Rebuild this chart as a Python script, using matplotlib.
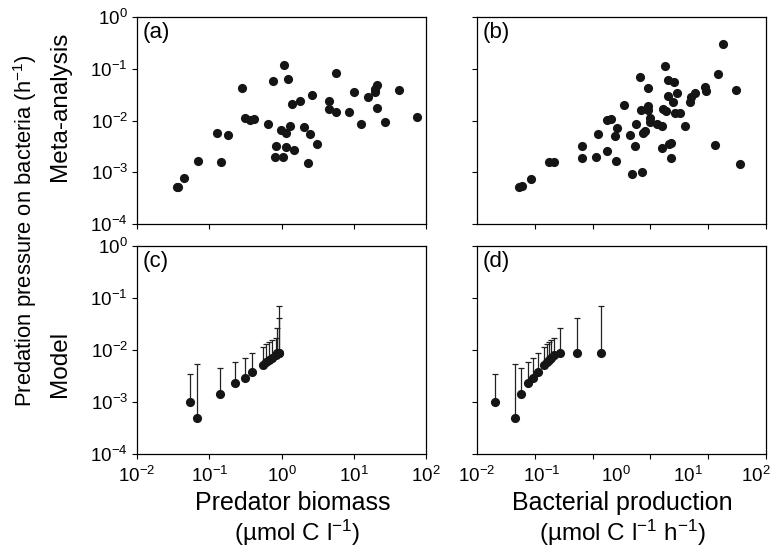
import numpy as np
import matplotlib
matplotlib.use("Agg")
import matplotlib.pyplot as plt
from matplotlib.ticker import FixedLocator, FixedFormatter, NullLocator, NullFormatter

plt.rcParams['font.family'] = ['Liberation Sans', 'DejaVu Sans']
plt.rcParams['mathtext.fontset'] = 'custom'
plt.rcParams['mathtext.rm'] = 'Liberation Sans'
plt.rcParams['mathtext.it'] = 'Liberation Sans:italic'
plt.rcParams['mathtext.bf'] = 'Liberation Sans:bold'

# (a) meta-analysis vs predator biomass
biomass_a = [0.0367, 0.0356, 0.0454, 0.0689, 0.126, 0.144, 0.18, 0.287, 0.313, 0.363,
             0.422, 0.653, 0.759, 0.826, 0.817, 0.989, 1.076, 1.054, 1.138, 1.148,
             1.225, 1.291, 1.406, 1.483, 1.8, 2.065, 2.296, 2.5, 2.667, 3.126,
             4.54, 4.54, 5.74, 5.74, 8.71, 10.1, 12.5, 15.5, 19.8, 20.0,
             21.3, 20.8, 27.2, 42.7, 75.0]
pressure_a = [0.00053, 0.00051, 0.00078, 0.00163, 0.0057, 0.0016, 0.0052, 0.0432, 0.0112, 0.0104,
              0.0108, 0.0087, 0.057, 0.00326, 0.00194, 0.0065, 0.116, 0.002, 0.0058, 0.00307,
              0.0624, 0.008, 0.0206, 0.00269, 0.0236, 0.00745, 0.00151, 0.00546, 0.0307, 0.00345,
              0.0236, 0.017, 0.0826, 0.0145, 0.0145, 0.0356, 0.0084, 0.029, 0.0351, 0.0401,
              0.0478, 0.0173, 0.0093, 0.0394, 0.0118]

# (b) meta-analysis vs bacterial production
production_b = [0.0377, 0.0419, 0.0552, 0.0989, 0.117, 0.283, 0.283, 0.438, 0.475, 0.621,
                0.627, 0.713, 0.861, 0.809, 0.836, 1.099, 1.318, 1.419, 1.514, 1.563,
                1.79, 1.849, 1.95, 1.972, 2.148, 2.312, 2.339, 2.339, 2.518, 2.489,
                3.148, 3.648, 3.69, 3.724, 4.018, 4.102, 4.375, 4.467, 4.56, 4.864,
                4.864, 5.176, 5.408, 5.585, 5.943, 6.471, 7.586, 8.89, 9.29, 10.4,
                14.5, 14.7, 19.95, 21.7, 25.2, 38.1, 44.2]
pressure_b = [0.000515, 0.000538, 0.000745, 0.00156, 0.00158, 0.00316, 0.00189, 0.00194, 0.00555, 0.00257,
              0.0104, 0.0106, 0.00713, 0.005, 0.00163, 0.02, 0.00522, 0.00093, 0.00321, 0.00838,
              0.0681, 0.0163, 0.00099, 0.0057, 0.00614, 0.0419, 0.0191, 0.0163, 0.0111, 0.0093,
              0.00838, 0.00789, 0.00298, 0.0165, 0.111, 0.0151, 0.0294, 0.0605, 0.00356, 0.00372,
              0.00191, 0.0232, 0.0555, 0.014, 0.0345, 0.014, 0.008, 0.0229, 0.0281, 0.034,
              0.0451, 0.0378, 0.0033, 0.0802, 0.298, 0.0383, 0.00145]

# (c), (d) model
biomass_c = [0.0544, 0.068, 0.142, 0.225, 0.31, 0.395, 0.556, 0.605, 0.667, 0.741,
             0.826, 0.879, 0.918, 0.938]
production_d = [0.01754, 0.0339, 0.0406, 0.0507, 0.0589, 0.069, 0.0853, 0.0918, 0.0989, 0.1067,
                0.1148, 0.1419, 0.2438, 0.5176]
model_pressure = [0.00099, 0.0005, 0.00143, 0.00236, 0.00285, 0.00378, 0.00522, 0.00579, 0.00643, 0.00713,
                  0.00789, 0.0089, 0.0089, 0.0089]
model_upper = [0.0034, 0.0053, 0.00444, 0.00597, 0.00713, 0.00863, 0.0116, 0.0129, 0.014, 0.0156,
               0.0173, 0.0261, 0.0419, 0.0701]

decade_labels = ['$10^{-2}$', '$10^{-1}$', '$10^{0}$', '$10^{1}$', '$10^{2}$']

W, H = 779, 549
fig = plt.figure(figsize=(W / 100, H / 100), dpi=100)

def rect(l, r, t, b):
    return [l / W, 1 - b / H, (r - l) / W, (b - t) / H]

ax_a = fig.add_axes(rect(137, 426, 17, 224))
ax_b = fig.add_axes(rect(477, 766, 17, 224))
ax_c = fig.add_axes(rect(137, 426, 246, 454))
ax_d = fig.add_axes(rect(477, 766, 246, 454))

dot = '#151515'
ax_a.plot(biomass_a, pressure_a, 'o', color=dot, ms=6.6, mec='none')
ax_b.plot(production_b, pressure_b, 'o', color=dot, ms=6.6, mec='none')

lo = np.zeros(len(model_pressure))
hi = np.array(model_upper) - np.array(model_pressure)
for ax, xs in [(ax_c, biomass_c), (ax_d, production_d)]:
    ax.errorbar(xs, model_pressure, yerr=[lo, hi], fmt='none', ecolor='#222222',
                elinewidth=0.9, capsize=2.5, capthick=0.9)
    ax.plot(xs, model_pressure, 'o', color=dot, ms=6.6, mec='none')

decades = [1e-2, 1e-1, 1e0, 1e1, 1e2]
for ax, lab in zip([ax_a, ax_b, ax_c, ax_d], ['(a)', '(b)', '(c)', '(d)']):
    ax.set_xscale('log')
    ax.set_yscale('log')
    ax.set_xlim(1e-2, 1e2)
    ax.set_ylim(1e-4, 1e0)
    ax.yaxis.set_major_locator(FixedLocator([1e-4, 1e-3, 1e-2, 1e-1, 1e0]))
    ax.yaxis.set_minor_locator(NullLocator())
    ax.xaxis.set_major_locator(FixedLocator(decades))
    ax.xaxis.set_minor_locator(NullLocator())
    ax.tick_params(direction='out', length=3.5, width=0.8, labelsize=13.5, pad=3)
    ax.tick_params(axis='x', pad=5)
    for s in ax.spines.values():
        s.set_linewidth(0.9)
    ax.text(0.02, 0.975, lab, transform=ax.transAxes, ha='left', va='top', fontsize=16)

# right-hand panels: tick marks at six even positions; the labels sit a bit
# squeezed to the left, as in the original figure
for ax in [ax_b, ax_d]:
    ax.xaxis.set_minor_locator(FixedLocator(np.logspace(-2, 2, 6)))
    ax.xaxis.set_minor_formatter(NullFormatter())
    ax.xaxis.set_major_locator(FixedLocator(10 ** np.array([-2.0, -1.11, -0.08, 0.92, 1.86])))
    ax.xaxis.set_major_formatter(FixedFormatter(decade_labels))
    ax.tick_params(axis='x', which='major', length=0, pad=8.5)
    ax.tick_params(axis='x', which='minor', direction='out', length=3.5, width=0.8)

for ax in [ax_a, ax_b]:
    ax.tick_params(axis='x', labelbottom=False)
for ax in [ax_b, ax_d]:
    ax.tick_params(axis='y', labelleft=False)

fig.text(25 / W, 1 - 231 / H, 'Predation pressure on bacteria (h$^{-1}$)',
         rotation=90, ha='center', va='center', fontsize=15.8)
fig.text(60 / W, 1 - 106 / H, 'Meta-analysis', rotation=90, ha='center', va='center', fontsize=17.5)
fig.text(60 / W, 1 - 364 / H, 'Model', rotation=90, ha='center', va='center', fontsize=17.5)

fig.text(293 / W, 1 - 503 / H, 'Predator biomass', ha='center', va='center', fontsize=18)
fig.text(297 / W, 1 - 533 / H, '(µmol C l$^{-1}$)', ha='center', va='center', fontsize=17.5)
fig.text(622 / W, 1 - 503 / H, 'Bacterial production', ha='center', va='center', fontsize=18)
fig.text(622 / W, 1 - 533 / H, '(µmol C l$^{-1}$ h$^{-1}$)', ha='center', va='center', fontsize=17.5)

fig.savefig('out.png', dpi=100)
